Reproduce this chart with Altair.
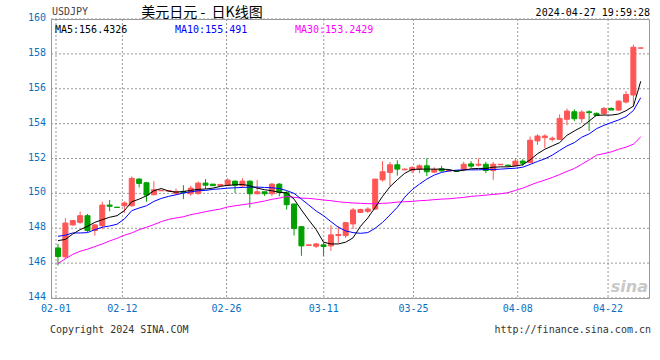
import altair as alt
import pandas as pd

# ---- candle data (one entry per trading bar, left to right) ----
opens = [146.87, 146.36, 148.19, 148.34, 148.72, 147.87, 148.15, 149.33, 149.21, 149.29,
         149.29, 150.82, 150.61, 149.92, 150.15, 150.13, 150.00, 150.11, 149.98, 150.00,
         150.59, 150.53, 150.45, 150.47, 150.70, 150.44, 150.70, 149.98, 150.09, 149.98,
         150.53, 150.04, 149.39, 148.09, 147.01, 146.97, 147.05, 146.99, 147.58, 147.58,
         148.25, 148.91, 148.97, 149.10, 150.78, 151.20, 151.64, 151.35, 151.32, 151.37,
         151.58, 151.22, 151.41, 151.28, 151.29, 151.39, 151.69, 151.62, 151.67, 151.31,
         151.64, 151.62, 151.58, 151.85, 151.77, 153.01, 153.20, 153.10, 153.10, 154.25,
         154.68, 154.28, 154.68, 154.59, 154.57, 154.87, 154.78, 155.24, 155.64, 158.33]
highs = [147.10, 148.57, 148.47, 148.95, 148.82, 148.25, 149.52, 149.62, 149.22, 149.54,
         150.97, 150.86, 150.66, 150.70, 150.20, 150.18, 150.28, 150.47, 150.44, 150.68,
         150.82, 150.53, 150.55, 150.87, 150.74, 150.87, 150.74, 150.76, 150.09, 150.59,
         150.59, 150.13, 149.39, 148.11, 147.06, 147.16, 147.18, 148.17, 148.11, 148.36,
         149.16, 149.12, 149.20, 150.82, 151.85, 151.80, 151.90, 151.43, 151.56, 151.67,
         152.01, 151.50, 151.58, 151.32, 151.30, 151.81, 151.85, 152.00, 151.81, 151.81,
         151.68, 151.64, 151.99, 151.96, 153.26, 153.39, 153.39, 153.26, 154.53, 154.86,
         154.82, 154.76, 154.76, 154.63, 154.95, 154.93, 155.33, 155.86, 158.53, 158.35]
lows = [145.86, 146.25, 148.15, 148.25, 147.77, 147.58, 147.94, 148.97, 149.18, 148.88,
        149.24, 150.34, 149.52, 149.90, 150.13, 150.10, 149.90, 149.67, 149.86, 149.92,
        150.25, 150.44, 150.42, 150.44, 150.02, 150.34, 149.18, 149.94, 149.86, 149.83,
        149.83, 149.07, 147.58, 146.42, 146.99, 146.87, 146.42, 146.70, 147.16, 147.45,
        147.96, 148.88, 148.87, 149.07, 150.68, 150.40, 151.02, 151.33, 151.15, 151.16,
        150.99, 151.16, 151.24, 151.26, 151.24, 151.27, 151.46, 151.54, 151.16, 150.78,
        151.63, 151.57, 151.54, 151.58, 151.73, 152.78, 152.59, 152.97, 153.10, 153.90,
        154.15, 154.06, 153.58, 154.44, 154.49, 154.78, 154.72, 155.16, 154.97, 158.32]
closes = [146.38, 148.30, 148.44, 148.72, 147.87, 148.19, 149.33, 149.26, 149.19, 149.45,
          150.86, 150.57, 149.90, 150.21, 150.18, 150.16, 150.11, 150.04, 150.30, 150.59,
          150.47, 150.44, 150.51, 150.76, 150.47, 150.70, 149.98, 150.09, 149.98, 150.53,
          150.06, 149.35, 147.99, 146.99, 147.05, 147.10, 146.95, 147.62, 147.64, 148.32,
          149.05, 149.07, 149.10, 150.82, 151.24, 151.64, 151.39, 151.39, 151.48, 151.58,
          151.24, 151.37, 151.29, 151.31, 151.26, 151.67, 151.56, 151.67, 151.31, 151.67,
          151.67, 151.58, 151.85, 151.73, 153.05, 153.29, 153.29, 153.16, 154.30, 154.72,
          154.28, 154.66, 154.63, 154.47, 154.87, 154.78, 155.29, 155.67, 158.38, 158.34]

# ---- moving averages ----
ma5 = [147.29, 147.36, 147.67, 147.92, 148.11, 148.34, 148.49, 148.63, 148.72, 149.01,
       149.52, 149.67, 149.86, 150.15, 150.28, 150.13, 150.07, 150.11, 150.17, 150.23,
       150.25, 150.30, 150.40, 150.46, 150.49, 150.51, 150.44, 150.30, 150.21, 150.15,
       150.06, 150.03, 149.67, 149.05, 148.47, 147.92, 147.20, 147.10, 147.10, 147.20,
       147.45, 148.11, 148.59, 149.20, 149.83, 150.38, 150.78, 151.15, 151.37, 151.39,
       151.39, 151.39, 151.39, 151.37, 151.27, 151.33, 151.41, 151.43, 151.43, 151.50,
       151.52, 151.52, 151.57, 151.64, 151.92, 152.27, 152.53, 152.72, 152.91, 153.33,
       153.58, 153.81, 154.15, 154.48, 154.49, 154.49, 154.55, 154.74, 155.00, 156.43]
ma10 = [147.54, 147.60, 147.73, 147.73, 147.75, 147.92, 148.06, 148.13, 148.23, 148.53,
        149.01, 149.16, 149.29, 149.54, 149.71, 149.83, 149.92, 150.02, 150.09, 150.15,
        150.17, 150.23, 150.26, 150.30, 150.32, 150.34, 150.36, 150.36, 150.34, 150.32,
        150.28, 150.16, 150.00, 149.67, 149.33, 148.99, 148.72, 148.38, 148.06, 147.85,
        147.75, 147.71, 147.75, 148.00, 148.34, 148.76, 149.20, 149.78, 150.21, 150.53,
        150.82, 151.05, 151.20, 151.29, 151.33, 151.35, 151.35, 151.35, 151.37, 151.37,
        151.39, 151.42, 151.44, 151.50, 151.66, 151.83, 151.98, 152.19, 152.46, 152.72,
        152.91, 153.22, 153.41, 153.71, 153.90, 154.06, 154.21, 154.40, 154.75, 155.49]
ma30 = [145.98, 146.25, 146.50, 146.68, 146.80, 146.95, 147.10, 147.27, 147.42, 147.60,
        147.73, 147.92, 148.06, 148.21, 148.38, 148.51, 148.59, 148.66, 148.78, 148.86,
        148.95, 149.03, 149.10, 149.22, 149.29, 149.35, 149.41, 149.48, 149.56, 149.66,
        149.73, 149.82, 149.77, 149.73, 149.71, 149.67, 149.62, 149.58, 149.52, 149.48,
        149.45, 149.43, 149.41, 149.41, 149.43, 149.45, 149.50, 149.52, 149.54, 149.58,
        149.60, 149.64, 149.67, 149.69, 149.73, 149.77, 149.83, 149.86, 149.90, 149.94,
        149.98, 150.04, 150.17, 150.30, 150.47, 150.63, 150.76, 150.91, 151.08, 151.26,
        151.43, 151.67, 151.92, 152.19, 152.28, 152.38, 152.53, 152.65, 152.82, 153.24]

# ---- axis ticks / labels ----
x_tick_pos = [-0.27, 8.73, 22.85, 36.03, 48.2, 62.32, 74.57]
x_tick_lbl = ["02-01", "02-12", "02-26", "03-11", "03-25", "04-08", "04-22"]
y_ticks = [144, 146, 148, 150, 152, 154, 156, 158, 160]

symbol = "USDJPY"
title_txt = "美元日元\u00a0-\u00a0\u00a0日K线图"
stamp = "2024-04-27 19:59:28"
ma_labels = ["MA5:156.4326", "MA10:155.491", "MA30:153.2429"]
footer_left = "Copyright 2024 SINA.COM"
footer_right = "http://finance.sina.com.cn"
logo_txt = "sina"

RED = "#ff5555"
GREEN = "#00a000"
BLUE_LBL = "#0a6fc2"
GRID = "#999999"
MONO = "DejaVu Sans Mono"
W, H = 598, 279

idx = list(range(len(closes)))
df = pd.DataFrame({"k": idx, "open": opens, "high": highs, "low": lows, "close": closes})
df["dir"] = ["up" if c >= o else "down" for o, c in zip(opens, closes)]
ma = pd.DataFrame({"k": idx, "ma5": ma5, "ma10": ma10, "ma30": ma30})
xt = pd.DataFrame({"p": x_tick_pos, "lbl": x_tick_lbl})
yt = pd.DataFrame({"v": y_ticks, "lbl": [str(v) for v in y_ticks]})

xscale = alt.Scale(domain=[-0.27, 79.44], nice=False, zero=False)
yscale = alt.Scale(domain=[144, 160], nice=False, zero=False)
cscale = alt.Scale(domain=["up", "down"], range=[RED, GREEN])

X = lambda f: alt.X(f, scale=xscale, axis=None)
Y = lambda f: alt.Y(f, scale=yscale, axis=None)

# grid lines and tick labels (drawn from the tick arrays through the scales)
xgrid = alt.Chart(xt).mark_rule(color=GRID, strokeDash=[2, 2], strokeWidth=1).encode(x=X("p:Q"))
ygrid = alt.Chart(yt).mark_rule(color=GRID, strokeDash=[2, 2], strokeWidth=1).encode(y=Y("v:Q"))
xlab = alt.Chart(xt).mark_text(font=MONO, fontSize=10, color=BLUE_LBL, align="center",
                               baseline="middle").encode(x=X("p:Q"), y=alt.value(H + 11),
                                                         text="lbl:N")
ylab = alt.Chart(yt).mark_text(font=MONO, fontSize=10, color=BLUE_LBL, align="right",
                               baseline="middle", dy=-1).encode(x=alt.value(-5), y=Y("v:Q"),
                                                                text="lbl:N")

base = alt.Chart(df)
wicks = base.mark_rule(strokeWidth=1).encode(
    x=X("k:Q"), y=Y("low:Q"), y2="high:Q",
    color=alt.Color("dir:N", scale=cscale, legend=None),
)
bodies = base.mark_bar(size=5, strokeWidth=1).encode(
    x=X("k:Q"), y=Y("open:Q"), y2="close:Q",
    color=alt.Color("dir:N", scale=cscale, legend=None),
    stroke=alt.Stroke("dir:N", scale=cscale, legend=None),
)

def ma_line(field, col):
    return alt.Chart(ma).mark_line(strokeWidth=1, color=col).encode(x=X("k:Q"), y=Y(field + ":Q"))

def txt(s, x, y, align="left", color="#000", font=MONO, size=10, **kw):
    return alt.Chart(pd.DataFrame({"t": [s]})).mark_text(
        align=align, baseline="middle", font=font, fontSize=size, color=color, **kw
    ).encode(x=alt.value(x), y=alt.value(y), text="t:N")

layers = [
    xgrid, ygrid, xlab, ylab,
    wicks, bodies,
    ma_line("ma30", "#ff00ff"), ma_line("ma10", "#0000ff"), ma_line("ma5", "#000000"),
    txt(symbol, 1, -7, color="#444444"),
    txt(title_txt, 151, -6, align="center", font="Noto Sans CJK SC", size=14),
    txt(stamp, 599, -6, align="right"),
    txt(ma_labels[0], 4, 11, color="#000000"),
    txt(ma_labels[1], 124, 11, color="#0000ff"),
    txt(ma_labels[2], 244, 11, color="#ff00ff"),
    txt(footer_left, -1, 311, color="#333333"),
    txt(footer_right, 600, 311, align="right", color="#333333"),
    txt(logo_txt, 597, 268, align="right", color="#c8c8c8", font="DejaVu Sans", size=16,
        fontStyle="italic", fontWeight="bold"),
]

chart = alt.layer(*layers).properties(
    width=W, height=H,
    autosize=alt.AutoSizeParams(type="none"),
    padding={"left": 51, "top": 19, "right": 11, "bottom": 62},
    background="white",
).configure_view(stroke=GRID, strokeWidth=1)

chart.save("out.html", embed_options={"renderer": "svg", "actions": False})
